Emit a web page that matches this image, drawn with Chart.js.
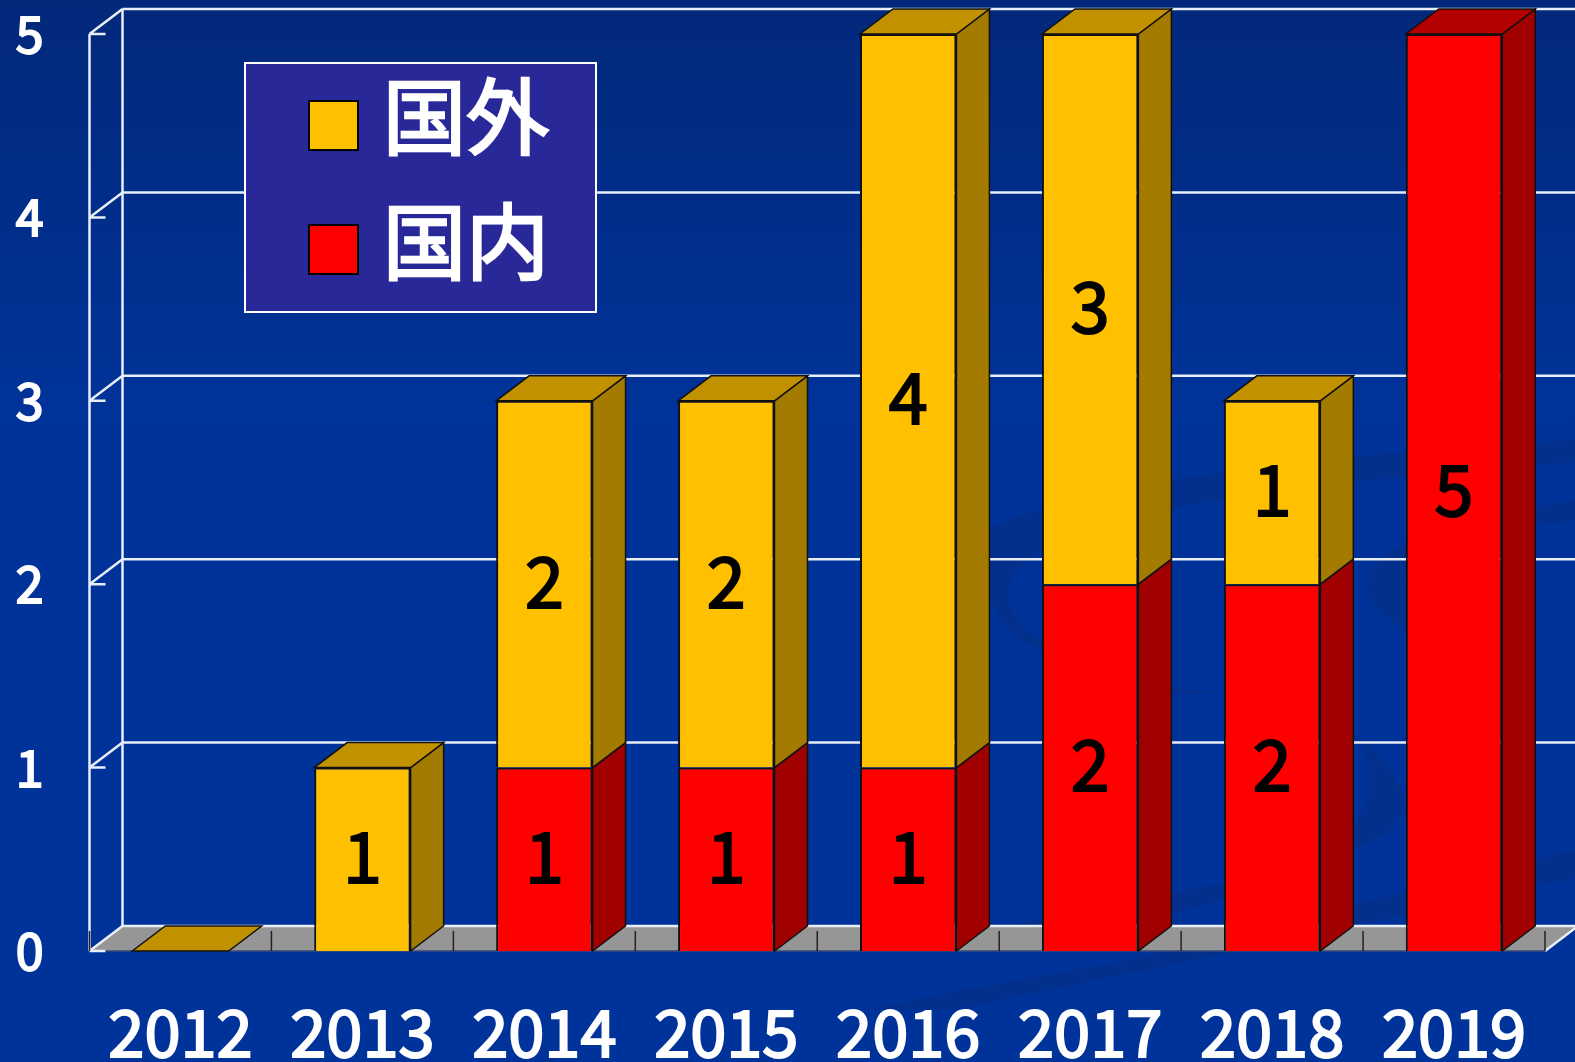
<!DOCTYPE html>
<html>
<head>
<meta charset="utf-8">
<title>国内 国外</title>
<script src="https://cdn.jsdelivr.net/npm/chart.js@4"></script>
<style>
    html, body { margin: 0; padding: 0; background: #00339a; overflow: hidden; }
    #wrap { position: relative; width: 1575px; height: 1062px; }
    #leyenda {
        position: absolute; left: 244px; top: 62px; width: 349px; height: 247px;
        background: #292899; border: 2px solid #fff;
    }
    .fila { position: absolute; left: 0; height: 80px; }
    .caja { position: absolute; left: 62px; top: 15px; width: 47px; height: 47px; border: 2px solid #000; }
    .txt {
        position: absolute; left: 137px; top: 0; line-height: 80px; white-space: nowrap;
        font: 400 83px "Noto Sans CJK JP"; color: #fff; -webkit-text-stroke: 2.5px #fff;
    }
</style>
</head>
<body>
<div id="wrap">
    <canvas id="grafico" width="1575" height="1062"></canvas>
    <div id="leyenda"></div>
</div>
<script>
const anios = ['2012','2013','2014','2015','2016','2017','2018','2019']
const etiquetas = ['国内','国外']
const domestico = [0,0,1,1,1,2,2,5]
const exterior = [0,1,2,2,4,3,1,0]
const ticksY = [0,1,2,3,4,5]

// colores: frente, lateral, tapa
const colores = ['#ff0000','#ffc000']
const laterales = ['#a00000','#a37b00']
const tapas = ['#b40000','#c29100']

// profundidad del efecto 3D
const dx = 33
const dy = 25
const fuente = '"Noto Sans CJK JP"'

function poligono(ctx, pts, relleno, linea, ancho) {
    ctx.beginPath()
    pts.forEach((p, i) => i ? ctx.lineTo(p[0], p[1]) : ctx.moveTo(p[0], p[1]))
    ctx.closePath()
    ctx.fillStyle = relleno
    ctx.fill()
    if (linea) {
        ctx.strokeStyle = linea
        ctx.lineWidth = ancho
        ctx.stroke()
    }
}

/*********************************************
*       FONDO CON DEGRADE Y REMOLINOS
**********************************************/
const fondo = {
    id: 'fondo',
    beforeDraw(chart) {
        const ctx = chart.ctx
        const g = ctx.createLinearGradient(0, 0, 0, 420)
        g.addColorStop(0, '#02287a')
        g.addColorStop(1, '#00339a')
        ctx.save()
        ctx.fillStyle = g
        ctx.fillRect(0, 0, chart.width, chart.height)

        ctx.fillStyle = '#02308c'
        // remolino izquierdo
        ctx.beginPath()
        ctx.moveTo(985, 530)
        ctx.bezierCurveTo(1120, 470, 1400, 450, 1575, 440)
        ctx.lineTo(1575, 462)
        ctx.bezierCurveTo(1350, 480, 1130, 500, 1040, 552)
        ctx.bezierCurveTo(990, 585, 1000, 620, 1060, 650)
        ctx.bezierCurveTo(1120, 680, 1180, 695, 1225, 690)
        ctx.bezierCurveTo(1180, 700, 1120, 690, 1040, 650)
        ctx.bezierCurveTo(985, 625, 975, 570, 985, 530)
        ctx.fill()
        // remolino derecho
        ctx.beginPath()
        ctx.moveTo(1575, 500)
        ctx.bezierCurveTo(1450, 520, 1360, 545, 1368, 590)
        ctx.bezierCurveTo(1372, 620, 1420, 640, 1480, 645)
        ctx.bezierCurveTo(1440, 620, 1400, 600, 1405, 580)
        ctx.bezierCurveTo(1415, 550, 1500, 530, 1575, 520)
        ctx.fill()
        // curva inferior
        ctx.beginPath()
        ctx.moveTo(1350, 730)
        ctx.bezierCurveTo(1400, 770, 1415, 800, 1395, 825)
        ctx.bezierCurveTo(1370, 850, 1300, 870, 1160, 895)
        ctx.bezierCurveTo(1100, 910, 1050, 920, 1000, 925)
        ctx.lineTo(1000, 950)
        ctx.bezierCurveTo(1150, 925, 1300, 890, 1355, 825)
        ctx.bezierCurveTo(1380, 790, 1370, 750, 1350, 730)
        ctx.fill()
        // banda de abajo
        ctx.beginPath()
        ctx.moveTo(1130, 960)
        ctx.bezierCurveTo(1300, 920, 1450, 880, 1575, 850)
        ctx.lineTo(1575, 878)
        ctx.bezierCurveTo(1450, 905, 1250, 950, 950, 1010)
        ctx.lineTo(870, 1010)
        ctx.bezierCurveTo(950, 990, 1050, 975, 1130, 960)
        ctx.fill()
        ctx.restore()
    }
}

/*********************************************
*       PAREDES, PISO Y LATERALES DE BARRAS
**********************************************/
const caja3d = {
    id: 'caja3d',
    beforeDatasetsDraw(chart) {
        const ctx = chart.ctx
        const x = chart.scales.x
        const y = chart.scales.y
        const izq = x.left
        const der = x.right
        const piso = y.getPixelForValue(0)

        ctx.save()
        // piso
        poligono(ctx, [[izq, piso], [izq + dx, piso - dy], [der + dx, piso - dy], [der, piso]], '#969696')

        // lineas de las paredes
        ctx.strokeStyle = '#e8eef8'
        ctx.lineWidth = 2.5
        ticksY.forEach(v => {
            const py = y.getPixelForValue(v)
            ctx.beginPath()
            ctx.moveTo(izq + dx, py - dy)
            ctx.lineTo(chart.width, py - dy)
            ctx.moveTo(izq, py)
            ctx.lineTo(izq + dx, py - dy)
            ctx.moveTo(izq, py)
            ctx.lineTo(izq + 16, py)
            ctx.stroke()
        })
        ctx.beginPath()
        ctx.moveTo(izq, y.getPixelForValue(5))
        ctx.lineTo(izq, piso)
        ctx.moveTo(izq + dx, y.getPixelForValue(5) - dy)
        ctx.lineTo(izq + dx, piso - dy)
        ctx.moveTo(der, piso)
        ctx.lineTo(der + dx, piso - dy)
        ctx.stroke()

        // borde frontal del piso
        ctx.strokeStyle = '#3a4a78'
        ctx.lineWidth = 1.5
        ctx.beginPath()
        ctx.moveTo(izq + 16, piso)
        ctx.lineTo(der, piso)
        ctx.stroke()

        // marcas entre categorias
        ctx.strokeStyle = '#222'
        ctx.lineWidth = 1.5
        const paso = x.width / anios.length
        for (let i = 0; i <= anios.length; i++) {
            ctx.beginPath()
            ctx.moveTo(izq + paso * i, piso - 20)
            ctx.lineTo(izq + paso * i, piso)
            ctx.stroke()
        }

        // laterales y tapas
        const metas = [chart.getDatasetMeta(0), chart.getDatasetMeta(1)]
        anios.forEach((a, j) => {
            const valores = [domestico[j], exterior[j]]
            valores.forEach((v, s) => {
                if (!v) return
                const b = metas[s].data[j]
                const r = b.x + b.width / 2
                poligono(ctx, [[r, b.y], [r + dx, b.y - dy], [r + dx, b.base - dy], [r, b.base]], laterales[s], '#111', 1.5)
            })
            // la tapa es del ultimo tramo con valor, 2012 queda dorada
            const s = (!exterior[j] && domestico[j]) ? 0 : 1
            const b = metas[s].data[j]
            const l = b.x - b.width / 2
            const r = b.x + b.width / 2
            poligono(ctx, [[l, b.y], [l + dx, b.y - dy], [r + dx, b.y - dy], [r, b.y]], tapas[s], '#111', 1.5)
        })
        ctx.restore()
    },
    // numeros dentro de las barras
    afterDatasetsDraw(chart) {
        const ctx = chart.ctx
        ctx.save()
        ctx.font = '400 70px ' + fuente
        ctx.fillStyle = '#000'
        ctx.strokeStyle = '#000'
        ctx.lineWidth = 2
        ctx.textAlign = 'center'
        ctx.textBaseline = 'middle'
        chart.data.datasets.forEach((ds, s) => {
            const meta = chart.getDatasetMeta(s)
            ds.data.forEach((v, j) => {
                if (!v) return
                const b = meta.data[j]
                const py = (b.y + b.base) / 2 - 3
                ctx.fillText(String(v), b.x, py)
                ctx.strokeText(String(v), b.x, py)
            })
        })
        ctx.restore()
    }
}

const ctx = document.getElementById('grafico').getContext('2d')

const data = {
    labels: anios,
    datasets: [
        { label: etiquetas[0], data: domestico, backgroundColor: colores[0], borderColor: '#111', borderWidth: 2 },
        { label: etiquetas[1], data: exterior, backgroundColor: colores[1], borderColor: '#111', borderWidth: 2 }
    ]
}

const options = {
    responsive: false,
    animation: false,
    layout: { padding: { top: 34, right: 30, left: 0, bottom: 0 } },
    datasets: { bar: { categoryPercentage: 1, barPercentage: 0.53 } },
    scales: {
        x: {
            stacked: true,
            grid: { display: false },
            border: { display: false },
            ticks: {
                color: '#fff', font: { family: fuente, size: 65, weight: 400 },
                textStrokeColor: '#fff', textStrokeWidth: 2,
                padding: 34, maxRotation: 0, autoSkip: false
            },
            afterFit(scale) { scale.height = 111 }
        },
        y: {
            stacked: true,
            min: 0,
            max: 5,
            grid: { display: false },
            border: { display: false },
            afterFit(scale) {
                scale.width = 89.5
                scale.paddingTop = 0
                scale.paddingBottom = 0
            },
            afterBuildTicks(scale) { scale.ticks = ticksY.map(v => ({ value: v })) },
            ticks: {
                color: '#fff', font: { family: fuente, size: 50, weight: 400 },
                textStrokeColor: '#fff', textStrokeWidth: 2,
                padding: 38, crossAlign: 'near'
            }
        }
    },
    plugins: { legend: { display: false }, tooltip: { enabled: false } }
}

const grafico = new Chart(ctx, { type: 'bar', data, options, plugins: [fondo, caja3d] })

// leyenda en html, sale de los datasets (el de arriba va primero)
const leyenda = document.getElementById('leyenda')
const tops = [145, 21]
const desplaz = [-32, -33]
grafico.data.datasets.forEach((ds, i) => {
    const fila = document.createElement('div')
    fila.className = 'fila'
    fila.style.top = tops[i] + 'px'
    fila.innerHTML = '<div class="caja" style="background:' + ds.backgroundColor + '"></div><div class="txt" style="top:' + desplaz[i] + 'px">' + ds.label + '</div>'
    leyenda.appendChild(fila)
})
</script>
</body>
</html>
